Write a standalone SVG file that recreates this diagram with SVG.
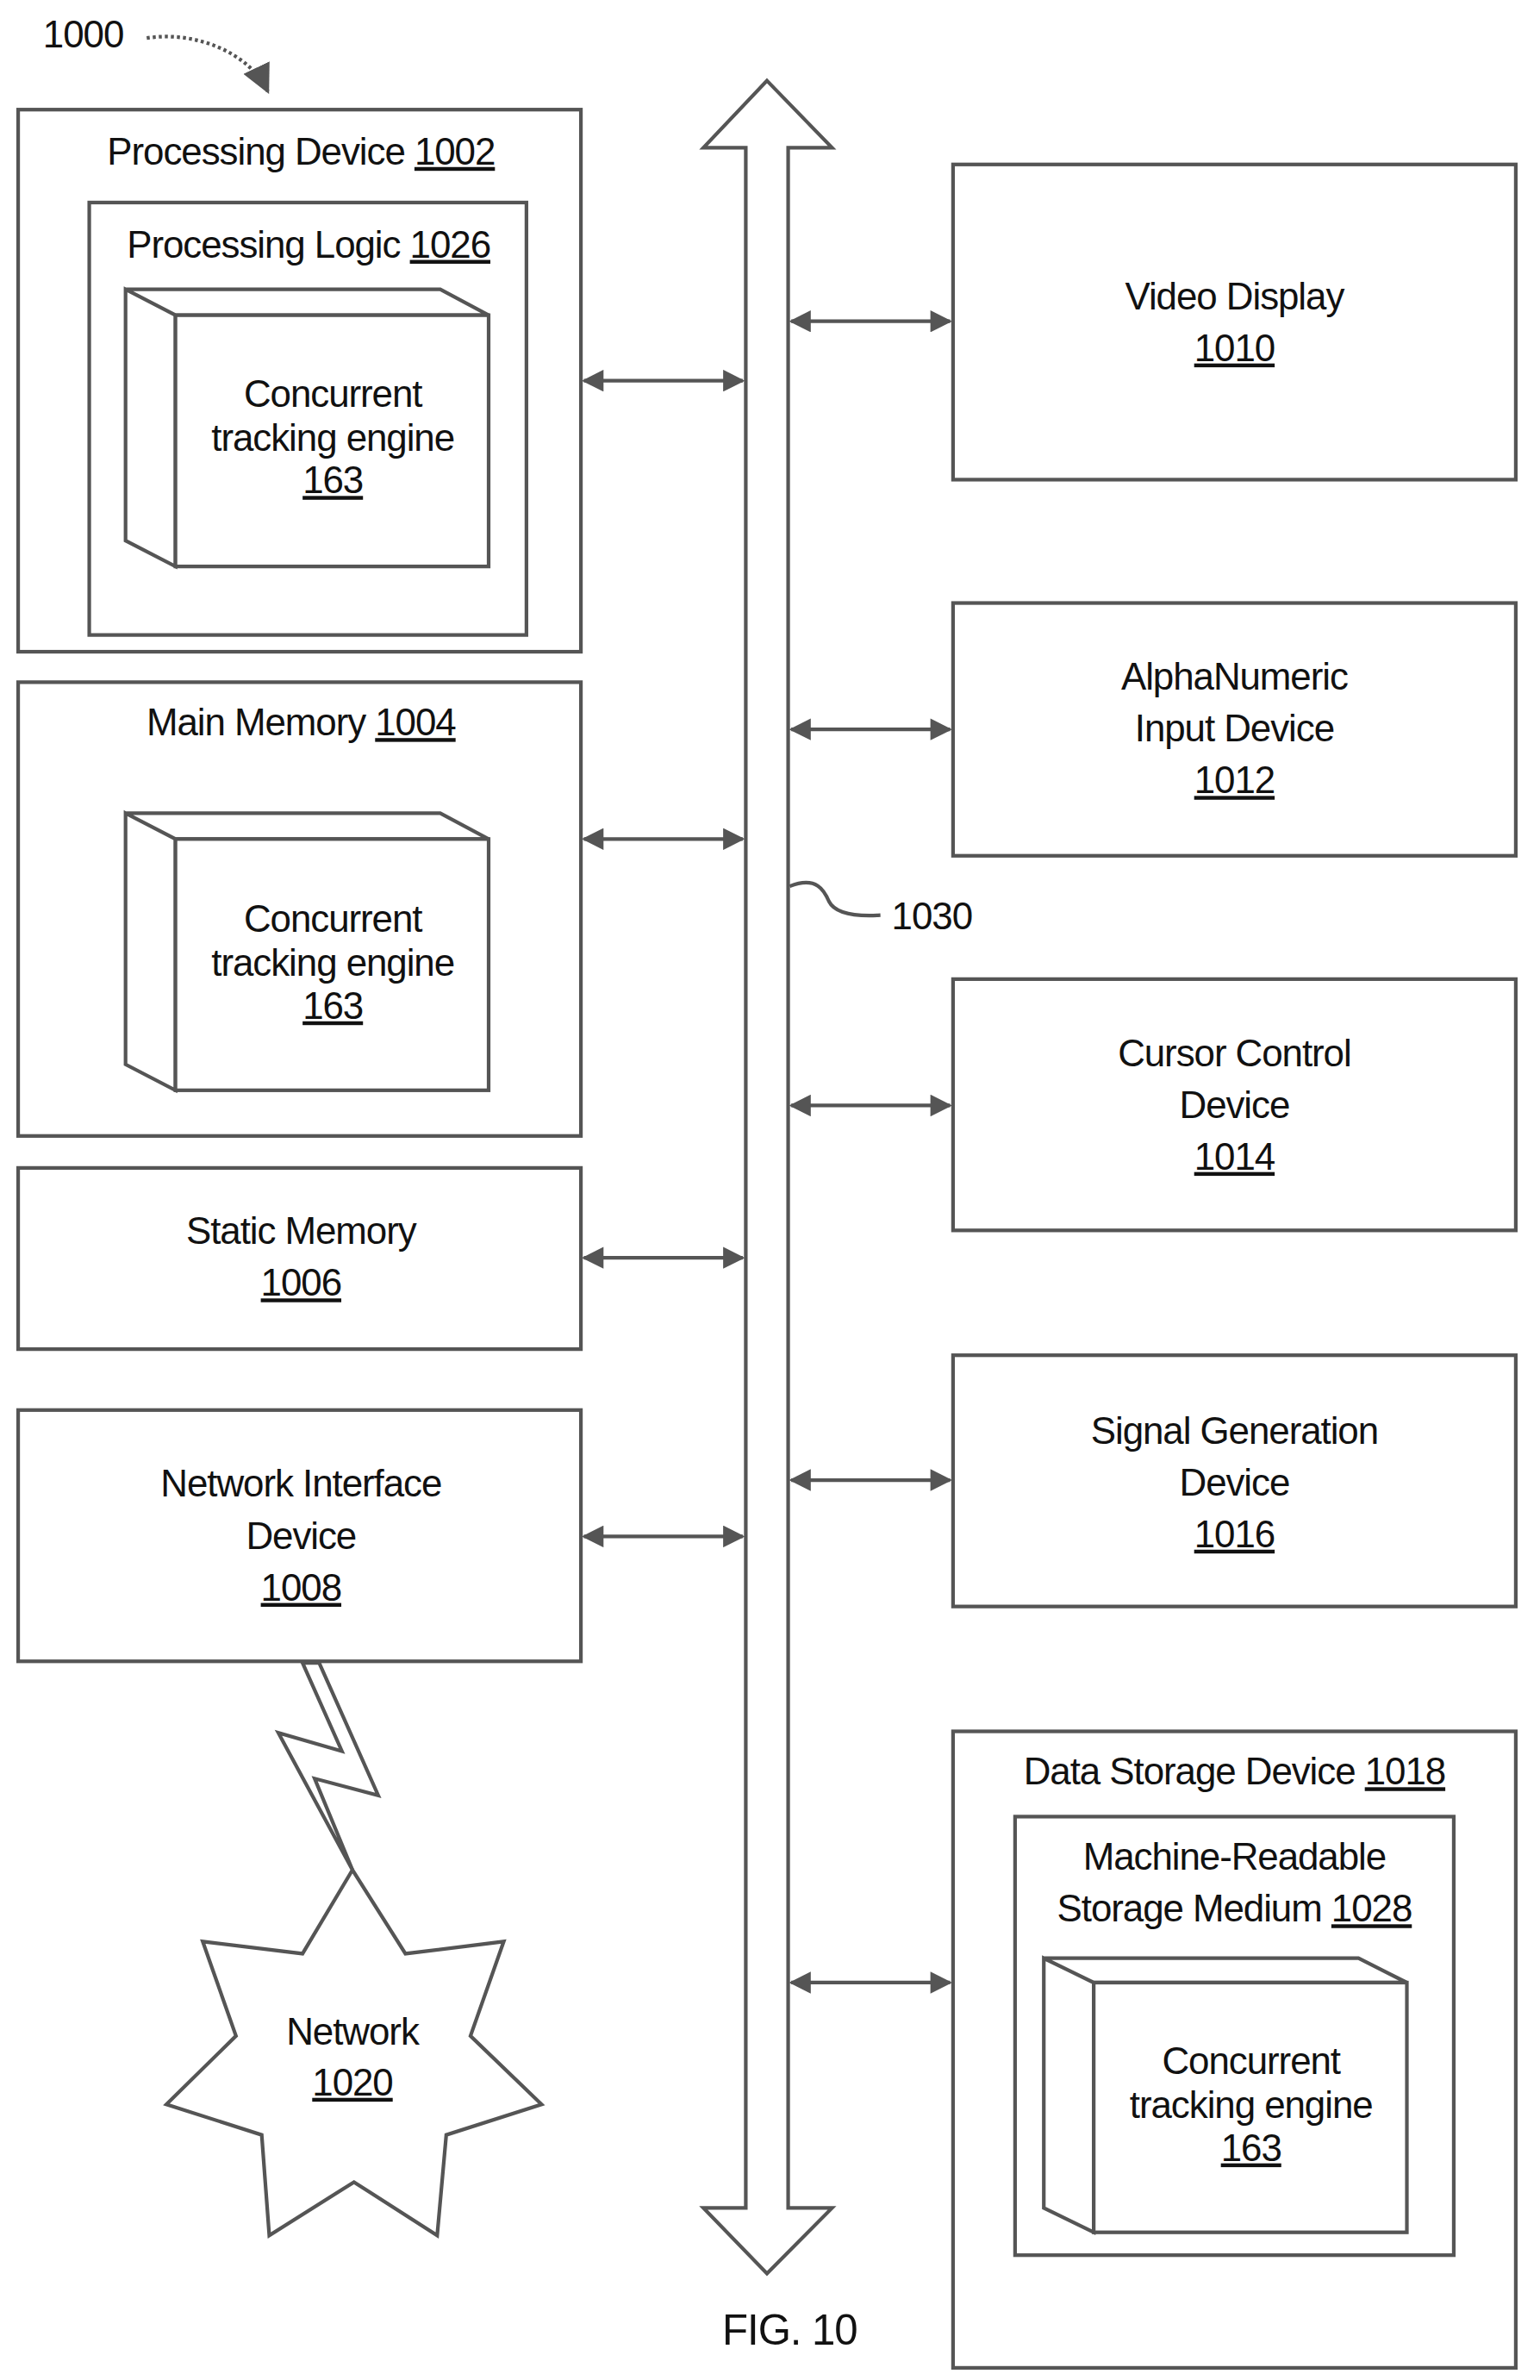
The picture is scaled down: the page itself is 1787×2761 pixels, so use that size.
<svg xmlns="http://www.w3.org/2000/svg" width="1787" height="2761" viewBox="0 0 1787 2761">
<style>
.b{fill:#fff;stroke:#555;stroke-width:2.4}
.t{font-family:"Liberation Sans",Arial,sans-serif;font-size:25px;fill:#111;text-anchor:middle;letter-spacing:-0.6px}
.u{text-decoration:underline}
.c{stroke:#555;stroke-width:2.4;fill:none}
</style>
<defs>
<marker id="ah" viewBox="0 0 10 10" refX="9" refY="5" markerWidth="8" markerHeight="6" markerUnits="strokeWidth" orient="auto-start-reverse"><path d="M0,0 L10,5 L0,10 z" fill="#555"/></marker>
<marker id="ah2" viewBox="0 0 10 10" refX="9" refY="5" markerWidth="8" markerHeight="8" markerUnits="strokeWidth" orient="auto"><path d="M0,0 L10,5 L0,10 z" fill="#555"/></marker>
</defs>
<rect width="1787" height="2761" fill="#fff"/>
<g transform="scale(1.7554,1.7665)">
<g id="label1000">
<text class="t" x="55" y="31">1000</text>
<path class="c" d="M97,25 C130,20 165,35 177,60" stroke-dasharray="2,2" stroke-width="1.5" marker-end="url(#ah2)"/>
</g>
<g id="processing-device">
<rect class="b" x="12" y="72" width="372" height="356"/>
<text class="t" x="199" y="108">Processing Device <tspan class="u">1002</tspan></text>
<rect class="b" x="59" y="133" width="289" height="284"/>
<text class="t" x="204" y="169">Processing Logic <tspan class="u">1026</tspan></text>
<path class="b" d="M83,190 L291,190 L323,207 L116,207 Z M83,190 L116,207 L116,372 L83,355 Z"/>
<rect class="b" x="116" y="207" width="207" height="165"/>
<text class="t" x="220" y="267">Concurrent</text>
<text class="t" x="220" y="296">tracking engine</text>
<text class="t u" x="220" y="324">163</text>
</g>
<g id="main-memory">
<rect class="b" x="12" y="448" width="372" height="298"/>
<text class="t" x="199" y="483">Main Memory <tspan class="u">1004</tspan></text>
<path class="b" d="M83,534 L291,534 L323,551 L116,551 Z M83,534 L116,551 L116,716 L83,699 Z"/>
<rect class="b" x="116" y="551" width="207" height="165"/>
<text class="t" x="220" y="612">Concurrent</text>
<text class="t" x="220" y="641">tracking engine</text>
<text class="t u" x="220" y="669">163</text>
</g>
<g id="static-memory">
<rect class="b" x="12" y="767" width="372" height="119"/>
<text class="t" x="199" y="817">Static Memory</text>
<text class="t u" x="199" y="851">1006</text>
</g>
<g id="network-interface">
<rect class="b" x="12" y="926" width="372" height="165"/>
<text class="t" x="199" y="983">Network Interface</text>
<text class="t" x="199" y="1017">Device</text>
<text class="t u" x="199" y="1051">1008</text>
</g>
<g id="network">
<polygon class="b" points="233,1228 200,1283 134,1275 156,1337 110,1382 173,1402 178,1468 234,1433 289,1468 295,1402 358,1382 311,1337 333,1275 268,1283"/>
<text class="t" x="233" y="1343">Network</text>
<text class="t u" x="233" y="1376">1020</text>
</g>
<g id="video-display">
<rect class="b" x="630" y="108" width="372" height="207"/>
<text class="t" x="816" y="203">Video Display</text>
<text class="t u" x="816" y="237">1010</text>
</g>
<g id="alphanumeric">
<rect class="b" x="630" y="396" width="372" height="166"/>
<text class="t" x="816" y="453">AlphaNumeric</text>
<text class="t" x="816" y="487">Input Device</text>
<text class="t u" x="816" y="521">1012</text>
</g>
<g id="cursor-control">
<rect class="b" x="630" y="643" width="372" height="165"/>
<text class="t" x="816" y="700">Cursor Control</text>
<text class="t" x="816" y="734">Device</text>
<text class="t u" x="816" y="768">1014</text>
</g>
<g id="signal-generation">
<rect class="b" x="630" y="890" width="372" height="165"/>
<text class="t" x="816" y="948">Signal Generation</text>
<text class="t" x="816" y="982">Device</text>
<text class="t u" x="816" y="1016">1016</text>
</g>
<g id="data-storage">
<rect class="b" x="630" y="1137" width="372" height="418"/>
<text class="t" x="816" y="1172">Data Storage Device <tspan class="u">1018</tspan></text>
<rect class="b" x="671" y="1193" width="290" height="288"/>
<text class="t" x="816" y="1228">Machine-Readable</text>
<text class="t" x="816" y="1262">Storage Medium <tspan class="u">1028</tspan></text>
<path class="b" d="M690,1286 L898,1286 L930,1302 L723,1302 Z M690,1286 L723,1302 L723,1466 L690,1450 Z"/>
<rect class="b" x="723" y="1302" width="207" height="164"/>
<text class="t" x="827" y="1362">Concurrent</text>
<text class="t" x="827" y="1391">tracking engine</text>
<text class="t u" x="827" y="1419">163</text>
</g>
<g id="bus">
<polygon class="b" points="507,53 550,97 521,97 521,1450 550,1450 507,1493 465,1450 493,1450 493,97 465,97"/>
<path class="c" stroke-width="1" d="M522,582 C540,575 545,585 548,592 C552,600 565,602 582,601"/>
<text class="t" x="616" y="610">1030</text>
</g>
<g id="connectors">
<path class="c" d="M386,250 L491,250" marker-start="url(#ah)" marker-end="url(#ah)"/>
<path class="c" d="M386,551 L491,551" marker-start="url(#ah)" marker-end="url(#ah)"/>
<path class="c" d="M386,826 L491,826" marker-start="url(#ah)" marker-end="url(#ah)"/>
<path class="c" d="M386,1009 L491,1009" marker-start="url(#ah)" marker-end="url(#ah)"/>
<path class="c" d="M523,211 L628,211" marker-start="url(#ah)" marker-end="url(#ah)"/>
<path class="c" d="M523,479 L628,479" marker-start="url(#ah)" marker-end="url(#ah)"/>
<path class="c" d="M523,726 L628,726" marker-start="url(#ah)" marker-end="url(#ah)"/>
<path class="c" d="M523,972 L628,972" marker-start="url(#ah)" marker-end="url(#ah)"/>
<path class="c" d="M523,1302 L628,1302" marker-start="url(#ah)" marker-end="url(#ah)"/>
<polygon class="b" points="200,1092 226,1150 184,1138 233,1228 208,1168 250,1179 211,1092"/>
</g>
<text class="t" x="522" y="1540" style="font-size:28px">FIG. 10</text>
</g>
</svg>
